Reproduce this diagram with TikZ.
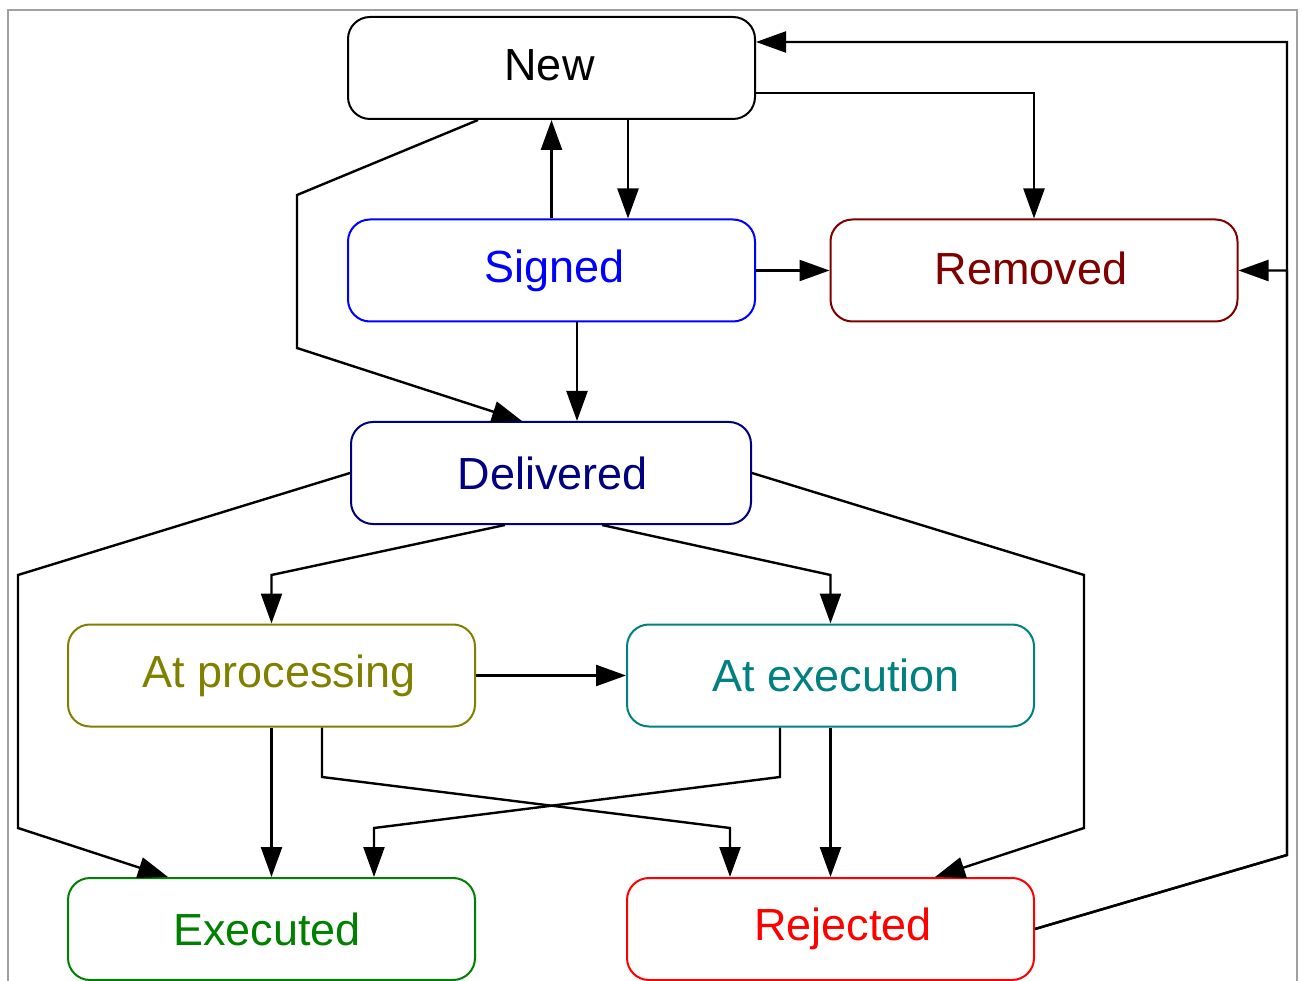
\documentclass[tikz,border=0pt]{standalone}
\usepackage{fontspec}
\setmainfont{Liberation Sans}
\usetikzlibrary{arrows.meta}
\definecolor{cNew}{HTML}{000000}
\definecolor{cSigned}{HTML}{0000FF}
\definecolor{cRemoved}{HTML}{800000}
\definecolor{cDelivered}{HTML}{000080}
\definecolor{cProc}{HTML}{808000}
\definecolor{cExec}{HTML}{008080}
\definecolor{cExecuted}{HTML}{008000}
\definecolor{cRejected}{HTML}{FF0000}
\definecolor{cFrame}{HTML}{A0A0A0}
\tikzset{
  state/.style={draw=#1, text=#1, line width=2pt, rounded corners=22pt,
    minimum width=407pt, minimum height=102pt, inner sep=0pt,
    font=\fontsize{45}{54}\selectfont},
  conn/.style={line width=2.4pt, -{Triangle[length=30pt,width=21pt]}},
}
\begin{document}
\begin{tikzpicture}[x=1pt,y=-1pt]
\useasboundingbox (0,0) rectangle (1302,981);
\draw[cFrame, line width=2pt] (8,981) -- (8,10) -- (1297,10) -- (1297,981);

\node[state=cNew] (new) at (551.5,68) {\raisebox{5pt}{New}\hspace*{4pt}};
\node[state=cSigned] (signed) at (551.5,270.5) {\hspace*{6pt}Signed};
\node[state=cRemoved] (removed) at (1034,270.5) {\raisebox{5pt}{Removed}\hspace*{6pt}};
\node[state=cDelivered, minimum width=400pt] (delivered) at (551,473) {\hspace*{4pt}Delivered};
\node[state=cProc] (atproc) at (271.5,675.5) {\hspace*{15pt}At processing};
\node[state=cExec] (atexec) at (830.5,675.5) {\hspace*{11pt}At execution};
\node[state=cExecuted] (executed) at (271.5,929) {Executed\hspace*{9pt}};
\node[state=cRejected] (rejected) at (830.5,929) {\hspace*{25pt}Rejected};

\coordinate (r1) at (1287,855);
\coordinate (r2) at (1287,42);

% New -> Removed
\draw[conn] ([yshift=-25pt]new.east) -| (removed.north);
% Rejected -> New
\draw[conn] (rejected.east) -- (r1) -- (r2) -- ([yshift=26pt]new.east);
% Rejected -> Removed
\draw[conn] (rejected.east) -- (r1) -- (removed.east -| r1) -- (removed.east);
% New -> Signed
\draw[conn] ([xshift=76.5pt]new.south) -- ([xshift=76.5pt]signed.north);
% Signed -> New
\draw[conn] (signed.north) -- (new.south);
% Signed -> Removed
\draw[conn] (signed.east) -- (removed.west);
% Signed -> Delivered
\draw[conn] ([xshift=25.5pt]signed.south) -- ([xshift=26pt]delivered.north);
% New -> Delivered
\draw[conn] ([xshift=-73.5pt]new.south) -- (297,195) -- (297,348) -- ([xshift=-29pt]delivered.north);
% Delivered -> Executed
\draw[conn] (delivered.west) -- (18,575) -- (18,828) -- ([xshift=-103.5pt]executed.north);
% Delivered -> Rejected
\draw[conn] (delivered.east) -- (1084,575) -- (1084,828) -- ([xshift=104.5pt]rejected.north);
% Delivered -> At processing
\draw[conn] ([xshift=-46pt]delivered.south) -- (271.5,575) -- (atproc.north);
% Delivered -> At execution
\draw[conn] ([xshift=51pt]delivered.south) -- (830.5,575) -- (atexec.north);
% At processing -> At execution
\draw[conn] (atproc.east) -- (atexec.west);
% At processing -> Executed
\draw[conn] (atproc.south) -- (executed.north);
% At processing -> Rejected
\draw[conn] ([xshift=50.5pt]atproc.south) -- (322,777) -- (730,828) -- ([xshift=-100.5pt]rejected.north);
% At execution -> Executed
\draw[conn] ([xshift=-50.5pt]atexec.south) -- (780,777) -- (374,828) -- ([xshift=102.5pt]executed.north);
% At execution -> Rejected
\draw[conn] (atexec.south) -- (rejected.north);
\end{tikzpicture}
\end{document}
